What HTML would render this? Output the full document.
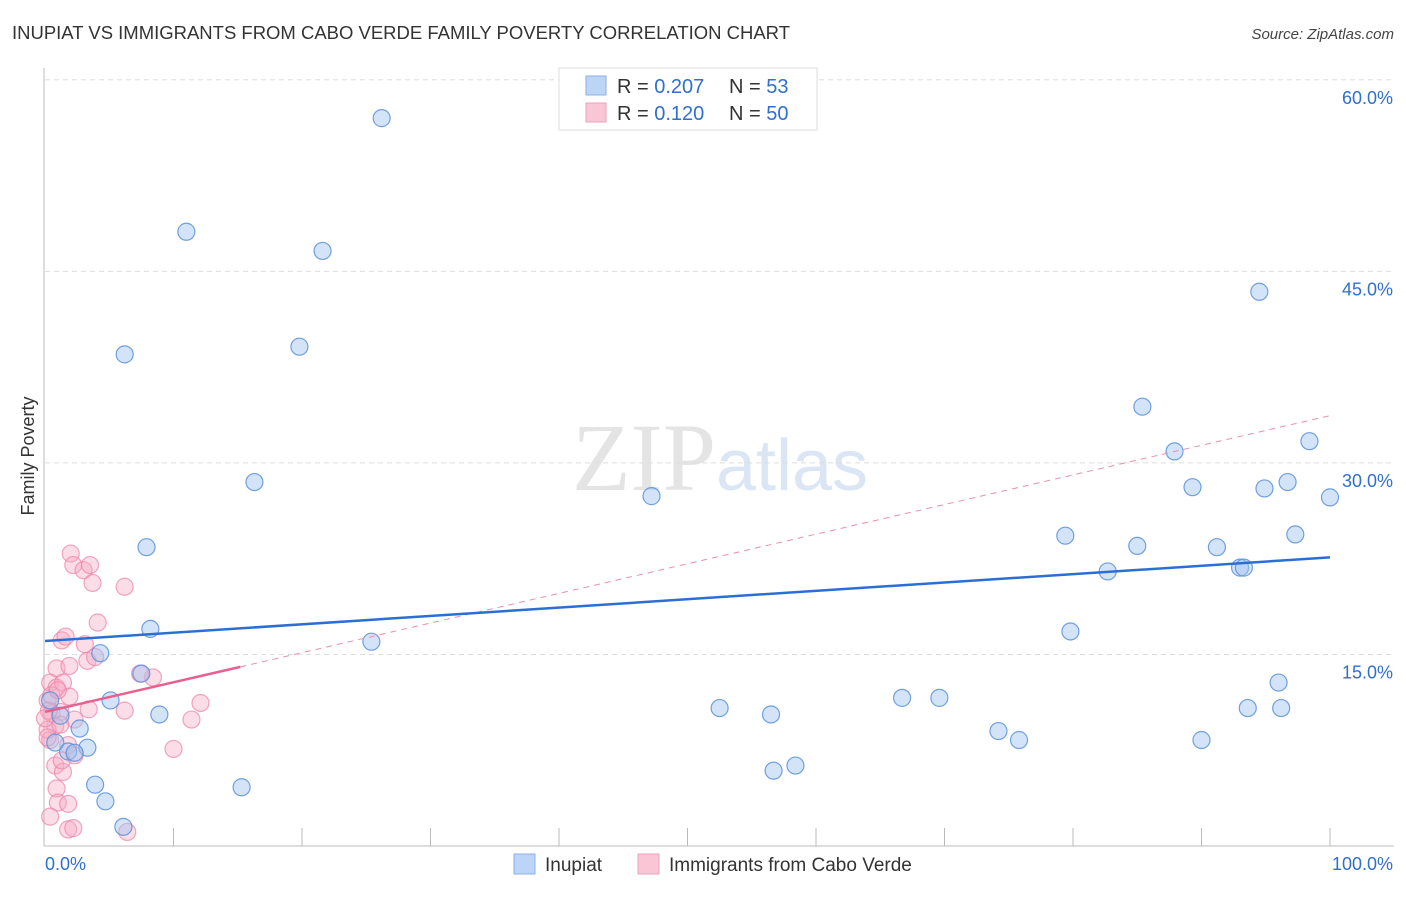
<!DOCTYPE html>
<html><head><meta charset="utf-8"><style>
body{margin:0;background:#fff;font-family:"Liberation Sans",sans-serif}
</style></head><body>
<svg id="chart" width="1406" height="892" xmlns="http://www.w3.org/2000/svg" font-family="Liberation Sans, sans-serif">
<text x="12" y="39" font-size="18" fill="#333" textLength="778" lengthAdjust="spacingAndGlyphs">INUPIAT VS IMMIGRANTS FROM CABO VERDE FAMILY POVERTY CORRELATION CHART</text>
<text x="1394" y="39" font-size="15" fill="#444" text-anchor="end" font-style="italic">Source: ZipAtlas.com</text>
<text x="720" y="490" font-size="96" text-anchor="middle" fill="#e4e4e4" font-family="Liberation Serif, serif">ZIP<tspan fill="#dbe6f5" font-family="Liberation Sans, sans-serif" font-size="72">atlas</tspan></text>
<text transform="translate(34,456) rotate(-90)" font-size="18" fill="#333" text-anchor="middle">Family Poverty</text>
<g id="grid"></g>
<g id="marks"></g>
<g>
<rect x="559" y="68" width="258" height="62" fill="#fff" stroke="#ddd"/>
<rect x="586" y="76" width="20" height="19" fill="#bcd4f5" stroke="#8ab0e6"/>
<rect x="586" y="103" width="20" height="19" fill="#f9c6d6" stroke="#f0a0bb"/>
<text x="617" y="93" font-size="20" fill="#333">R = <tspan fill="#2f6fd0">0.207</tspan></text>
<text x="729" y="93" font-size="20" fill="#333">N = <tspan fill="#2f6fd0"> 53</tspan></text>
<text x="617" y="120" font-size="20" fill="#333">R = <tspan fill="#2f6fd0"> 0.120</tspan></text>
<text x="729" y="120" font-size="20" fill="#333">N = <tspan fill="#2f6fd0">50</tspan></text>
</g>
<g>
<rect x="514" y="854" width="21" height="20" fill="#bcd4f5" stroke="#8ab0e6"/>
<text x="545" y="871" font-size="19" fill="#333">Inupiat</text>
<rect x="638" y="854" width="21" height="20" fill="#f9c6d6" stroke="#f0a0bb"/>
<text x="669" y="871" font-size="19" fill="#333">Immigrants from Cabo Verde</text>
</g>
</svg>
<script>
const xTicks=[0,10,20,30,40,50,60,70,80,90,100];
const yTicks=[15,30,45,60];
const blueX=[26.2,11.0,21.6,6.2,19.8,94.5,85.4,87.9,98.4,16.3,47.2,89.3,94.9,96.7,100,7.9,79.4,85.0,91.2,97.3,82.7,93.0,93.3,8.2,79.8,25.4,4.3,7.5,5.1,8.9,66.7,69.6,52.5,56.5,96.0,93.6,96.2,74.2,75.8,90.0,1.2,2.7,0.8,1.8,3.3,2.3,56.7,58.4,3.9,4.7,15.3,6.1,0.4];
const blueY=[57.0,48.1,46.6,38.5,39.1,43.4,34.4,30.9,31.7,28.5,27.4,28.1,28.0,28.5,27.3,23.4,24.3,23.5,23.4,24.4,21.5,21.8,21.8,17.0,16.8,16.0,15.1,13.5,11.4,10.3,11.6,11.6,10.8,10.3,12.8,10.8,10.8,9.0,8.3,8.3,10.2,9.2,8.1,7.4,7.7,7.3,5.9,6.3,4.8,3.5,4.6,1.5,11.4];
const pinkX=[2.0,2.2,3.0,3.5,3.7,6.2,4.1,1.3,1.6,3.1,3.3,3.9,8.4,7.4,0.9,1.9,0.4,0.9,1.4,1.9,0.2,0.5,1.2,2.3,3.4,6.2,11.4,12.1,0.4,0.8,0.2,1.8,10.0,2.3,0.8,1.4,0.9,1.0,1.8,0.4,1.8,2.2,6.4,0.3,1.3,0.5,1.2,0,0.2,1.0];
const pinkY=[22.9,22.0,21.6,22.0,20.6,20.3,17.5,16.1,16.4,15.8,14.5,14.8,13.2,13.5,13.9,14.1,12.8,12.4,12.8,11.7,11.4,10.4,10.5,9.9,10.7,10.6,9.9,11.2,8.3,9.4,9.1,7.9,7.6,7.1,6.3,5.8,4.5,3.4,3.3,2.3,1.3,1.4,1.1,10.6,6.7,11.8,9.5,10.0,8.5,12.2];
const blueTrend=[16.05,22.6];
const pinkTrend=[10.5,33.7];
const pinkSolidEnd=15.2;

const NS="http://www.w3.org/2000/svg";
const X=v=>45+v*12.85, Y=v=>846-v*12.77;
const grid=document.getElementById('grid'), marks=document.getElementById('marks');
function mk(tag,attrs,parent){const e=document.createElementNS(NS,tag);for(const k in attrs)e.setAttribute(k,attrs[k]);parent.appendChild(e);return e;}
let e;
e=mk('line',{x1:44,y1:68,x2:44,y2:846,stroke:'#bbb'},grid);


e=mk('line',{x1:44,y1:846,x2:1394,y2:846,stroke:'#bbb'},grid);


yTicks.forEach(t=>{
 e=mk('line',{x1:45,y1:Y(t),x2:1394,y2:Y(t),stroke:'#ddd','stroke-dasharray':'5,4'},grid);
 
 
 e=mk('text',{x:1393,y:Y(t)+24,'font-size':18,fill:'#2f6fd0','text-anchor':'end'},grid);
 e.textContent=t.toFixed(1)+'%';
 
 
});
xTicks.forEach(t=>{ if(t===0)return;
 e=mk('line',{x1:X(t),y1:828,x2:X(t),y2:846,stroke:'#bbb'},grid);
 
 
});
e=mk('text',{x:45,y:870,'font-size':18,fill:'#2f6fd0'},grid);e.textContent='0.0%';


e=mk('text',{x:1393,y:870,'font-size':18,fill:'#2f6fd0','text-anchor':'end'},grid);e.textContent='100.0%';



pinkX.forEach((v,i)=>{
 e=mk('circle',{cx:X(v),cy:Y(pinkY[i]),r:8.5,fill:'rgba(246,170,196,0.4)',stroke:'rgba(236,130,165,0.7)','stroke-width':1.2},marks);
 
 
});
blueX.forEach((v,i)=>{
 e=mk('circle',{cx:X(v),cy:Y(blueY[i]),r:8.5,fill:'rgba(160,196,240,0.45)',stroke:'rgba(90,145,220,0.85)','stroke-width':1.2},marks);
 
 
});
const pAt=x=>pinkTrend[0]+(pinkTrend[1]-pinkTrend[0])*x/100;
e=mk('line',{x1:X(pinkSolidEnd),y1:Y(pAt(pinkSolidEnd)),x2:X(100),y2:Y(pinkTrend[1]),stroke:'#e890ae','stroke-width':1,'stroke-dasharray':'6,5'},marks);


e=mk('line',{x1:X(0),y1:Y(pinkTrend[0]),x2:X(pinkSolidEnd),y2:Y(pAt(pinkSolidEnd)),stroke:'#e8608e','stroke-width':2.5},marks);


e=mk('line',{x1:X(0),y1:Y(blueTrend[0]),x2:X(100),y2:Y(blueTrend[1]),stroke:'#2a6fd6','stroke-width':2.5},marks);


</script>
</body></html>
